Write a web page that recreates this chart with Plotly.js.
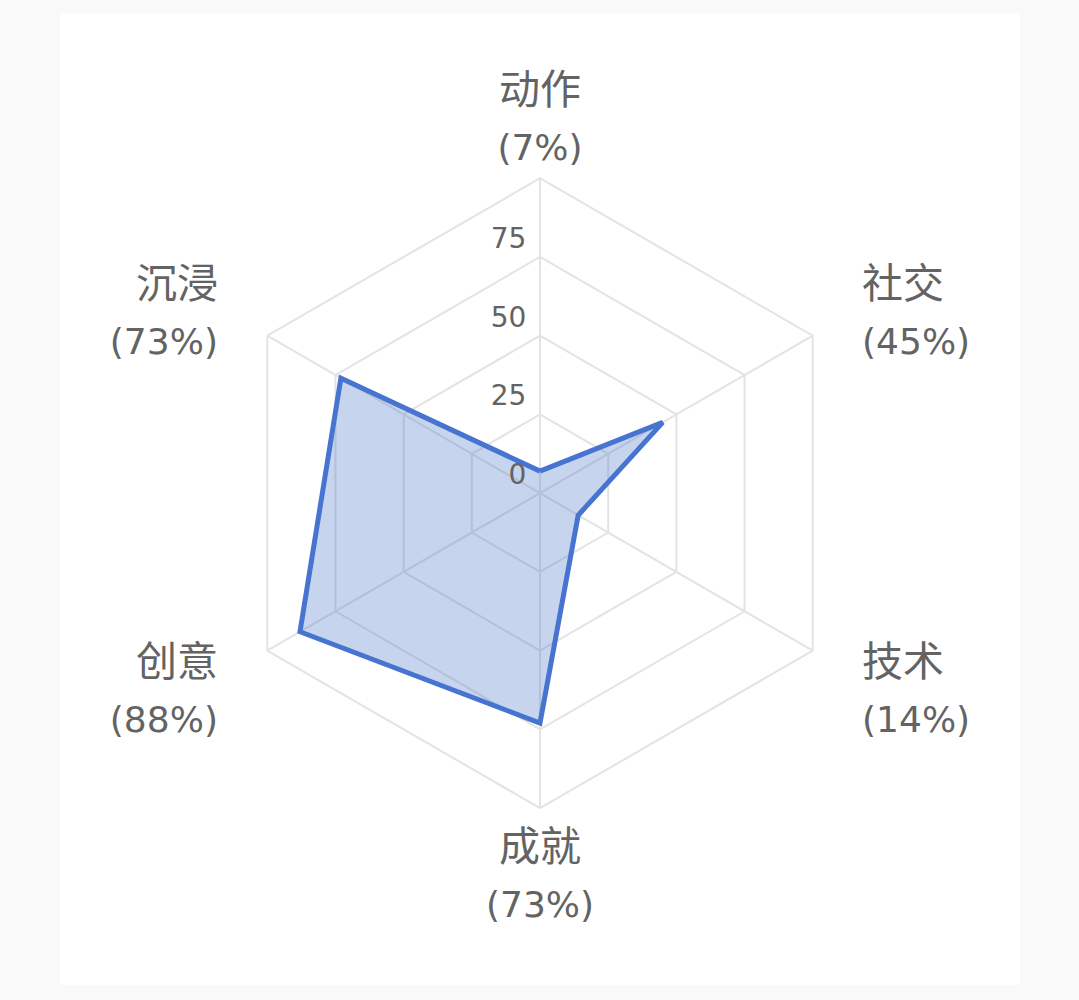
<!DOCTYPE html>
<html>
<head>
<meta charset="utf-8">
<script src="https://cdn.plot.ly/plotly-3.0.1.min.js"></script>
<style>
  html, body { margin: 0; padding: 0; background: #f9f9f9; }
  #card { position: absolute; left: 60px; top: 13px; width: 960px; height: 972px; background: #fff; }
</style>
</head>
<body>
<div id="card"></div>
<script>
// categories clockwise from the top
const categories = ["动作", "社交", "技术", "成就", "创意", "沉浸"];
const values = [7, 45, 14, 73, 88, 73];
const radialTicks = [0, 25, 50, 75];

// two-line labels, padded away from the hexagon on the left/right sides
const PAD = "\u00a0\u00a0\u00a0";
const labels = categories.map((c, i) => {
  const ang = (90 - i * 360 / categories.length) * Math.PI / 180;
  const cx = Math.cos(ang);
  const pre = cx > 0.1 ? PAD : "";
  const post = cx < -0.1 ? PAD : "";
  return `${pre}<span style="font-size:41px">${c}</span>${post}<br>` +
         `${pre}<span style="font-size:36px">(${values[i]}%)</span>${post}`;
});

const trace = {
  type: "scatterpolar",
  r: values.concat(values[0]),
  theta: labels.concat(labels[0]),
  mode: "lines",
  fill: "toself",
  fillcolor: "rgba(68,114,196,0.3)",
  line: { color: "#4774d0", width: 5 },
  hoverinfo: "none"
};

const layout = {
  width: 960,
  height: 972,
  margin: { l: 0, r: 0, t: 0, b: 0 },
  paper_bgcolor: "#ffffff",
  showlegend: false,
  font: { family: "DejaVu Sans, Noto Sans CJK SC, sans-serif", color: "#636363" },
  polar: {
    domain: { x: [0.171875, 0.828125], y: [0.182, 0.830] },
    gridshape: "linear",
    bgcolor: "rgba(0,0,0,0)",
    angularaxis: {
      rotation: 90,
      direction: "clockwise",
      gridcolor: "#e3e3e3",
      linecolor: "#e3e3e3",
      linewidth: 2,
      gridwidth: 2,
      showline: true,
      ticks: "",
      tickfont: { size: 43, color: "#636363" }
    },
    radialaxis: {
      range: [0, 100],
      angle: 90,
      side: "counterclockwise",
      tickangle: 90,
      tickvals: radialTicks,
      // blank second line lifts each number above its ring
      ticktext: radialTicks.map(v => `${v}\u00a0<br>\u00a0`),
      showline: false,
      ticks: "",
      gridcolor: "#e3e3e3",
      gridwidth: 2,
      tickfont: { size: 28, color: "#636363" }
    }
  }
};

Plotly.newPlot("card", [trace], layout, { displayModeBar: false, staticPlot: true });
</script>
</body>
</html>
